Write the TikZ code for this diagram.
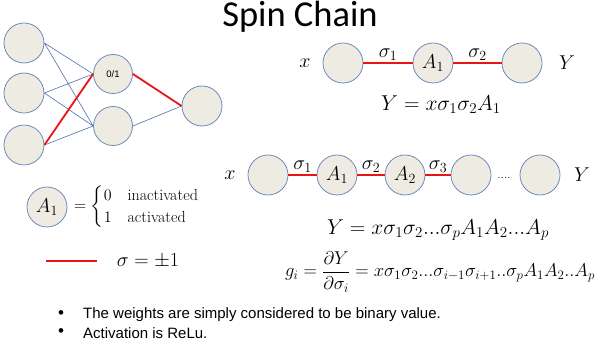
\RequirePackage{fix-cm}
\documentclass[tikz,border=0pt]{standalone}
\usepackage{amsmath}
\usepackage{fontspec}
\newfontfamily\slidefont{Liberation Sans}
\newfontfamily\titlefont{Carlito}
\definecolor{unitfill}{RGB}{238,236,226}
\definecolor{unitedge}{RGB}{105,140,190}
\definecolor{weightblue}{RGB}{80,110,165}
\definecolor{spinred}{RGB}{235,20,20}
\tikzset{
  unit/.style={
    circle,
    draw=unitedge,
    fill=unitfill,
    line width=0.8pt,
    minimum size=40pt,
    inner sep=0pt
  },
  weight/.style={draw=weightblue,line width=0.6pt},
  spin/.style={draw=spinred,line width=2pt},
  mathlabel/.style={font=\fontsize{20}{24}\selectfont,inner sep=1pt},
  bullettext/.style={font=\slidefont\fontsize{15}{18}\selectfont,anchor=west,inner sep=0pt}
}

\begin{document}
\begin{tikzpicture}[x=1pt,y=-1pt]
  \useasboundingbox (0,0) rectangle (600,344);
  \node[font=\titlefont\fontsize{36.5}{40}\selectfont,anchor=base] (title) at (300,27) {Spin Chain};

  % small network
  \node[unit] (in1) at (24,43) {};
  \node[unit] (in2) at (24,93) {};
  \node[unit] (in3) at (24,145) {};
  \node[unit,minimum size=39pt,font=\slidefont\fontsize{9.5}{11}\selectfont] (hid1) at (113,74) {0/1};
  \node[unit,minimum size=39pt] (hid2) at (113,126) {};
  \node[unit] (out) at (202,106) {};
  \draw[weight]
    (in1.east) -- (hid1.west)
    (in1.east) -- (hid2.west)
    (in2.east) -- (hid1.west)
    (in2.east) -- (hid2.west)
    (in3.east) -- (hid2.west)
    (hid2.east) -- (out.west);
  \draw[spin,line width=1.8pt] (in3.east) -- (hid1.west);
  \draw[spin,line width=1.8pt] (hid1.east) -- (out.west);

  % two-link chain
  \node[mathlabel] (xa) at (305,63) {$x$};
  \node[unit] (ca) at (343,63) {};
  \node[unit,mathlabel] (cb) at (433,63) {$A_1$};
  \node[unit] (cc) at (522,63) {};
  \node[mathlabel] (ya) at (567,63) {$Y$};
  \draw[spin] (ca) -- node[above,mathlabel] (sa) {$\sigma_1$} (cb);
  \draw[spin] (cb) -- node[above,mathlabel] (sb) {$\sigma_2$} (cc);
  \node[mathlabel,font=\fontsize{21.5}{24}\selectfont] (eqa) at (441,105) {$Y = x\sigma_1\sigma_2A_1$};

  % long chain
  \node[mathlabel] (xb) at (230,175) {$x$};
  \node[unit] (pa) at (268,175) {};
  \node[unit,mathlabel] (pb) at (337,175) {$A_1$};
  \node[unit,mathlabel] (pc) at (405,175) {$A_2$};
  \node[unit] (pd) at (471,175) {};
  \node[font=\fontsize{12}{14}\selectfont,anchor=base] (dots) at (504,179) {....};
  \node[unit] (pe) at (540,175) {};
  \node[mathlabel] (yb) at (582,175) {$Y$};
  \draw[spin] (pa) -- node[above,mathlabel] (ta) {$\sigma_1$} (pb);
  \draw[spin] (pb) -- node[above,mathlabel] (tb) {$\sigma_2$} (pc);
  \draw[spin] (pc) -- node[above,mathlabel] (tc) {$\sigma_3$} (pd);
  \node[mathlabel,font=\fontsize{21.5}{24}\selectfont] (eqb) at (438,230) {$Y = x\sigma_1\sigma_2...\sigma_pA_1A_2...A_p$};
  \node[mathlabel,font=\fontsize{18.5}{22}\selectfont] (eqc) at (440,272)
    {$g_i = \dfrac{\partial Y}{\partial \sigma_i} = x\sigma_1\sigma_2...\sigma_{i-1}\sigma_{i+1}..\sigma_pA_1A_2..A_p$};

  % legend
  \node[unit,mathlabel] (key) at (47,207) {$A_1$};
  \node[anchor=west,font=\fontsize{16}{19}\selectfont,inner sep=0pt] (keydef) at (74,207)
    {$= \begin{cases}0 & \text{inactivated}\\ 1 & \text{activated}\end{cases}$};
  \coordinate (keyl) at (46,261);
  \coordinate (keyr) at (97,261);
  \draw[spin] (keyl) -- (keyr);
  \node[mathlabel] (keysig) at (148,261) {$\sigma = \pm 1$};

  % notes
  \node[bullettext,font=\slidefont\fontsize{17}{17}\selectfont] (dota) at (58,315) {\textbullet};
  \node[bullettext] (notea) at (83,315) {The weights are simply considered to be binary value.};
  \node[bullettext,font=\slidefont\fontsize{17}{17}\selectfont] (dotb) at (58,333) {\textbullet};
  \node[bullettext] (noteb) at (83,333) {Activation is ReLu.};
\end{tikzpicture}
\end{document}
